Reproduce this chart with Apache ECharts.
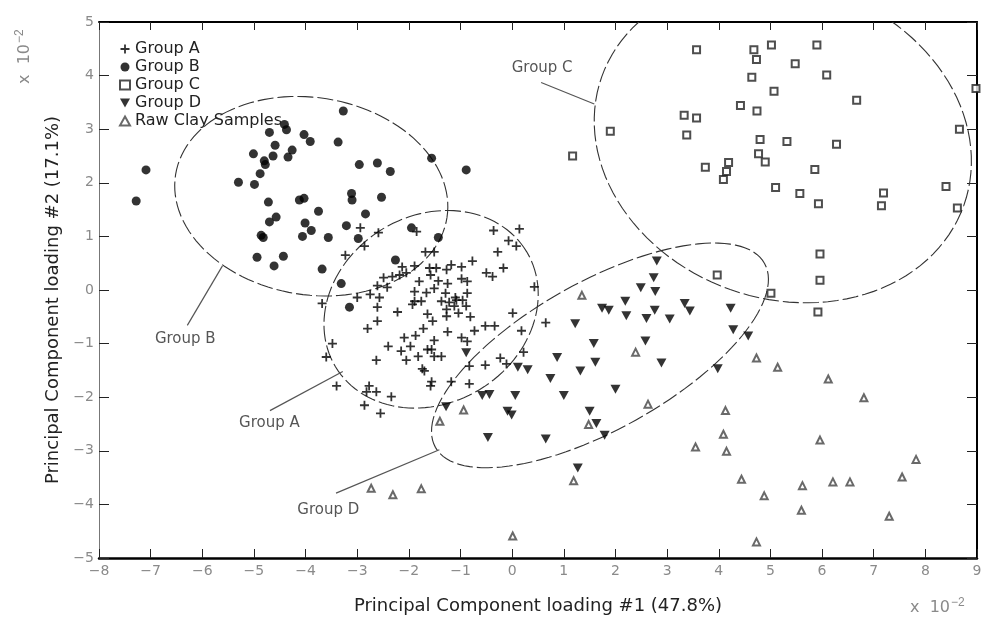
<!doctype html>
<html>

	<head>
		<meta charset="UTF-8">
		<title>Principal Component loading</title>
		<script src="https://cdn.jsdelivr.net/npm/echarts@6/dist/echarts.min.js"></script>
		<style>
			html, body {
				margin: 0;
				padding: 0;
				background: #fff;
			}
			#chart {
				width: 990px;
				height: 620px;
			}
		</style>
	</head>

	<body>
		<div id="chart"></div>
		<script type="text/javascript">
			// values in units of 10^-2
			var groupA = [[-2.94,1.16],[-2.59,1.07],[-2.86,0.82],[-3.23,0.65],[-1.85,1.09],[-1.68,0.71],[-1.51,0.71],[-0.36,1.11],[0.14,1.14],[-0.07,0.92],[0.08,0.82],[-0.28,0.71],[-0.77,0.54],[-0.17,0.41],[-0.50,0.32],[-0.38,0.25],[-2.13,0.43],[-1.89,0.45],[-2.05,0.32],[-2.18,0.28],[-2.32,0.25],[-2.49,0.23],[-1.60,0.41],[-1.47,0.41],[-1.27,0.38],[-1.18,0.47],[-0.98,0.43],[-1.58,0.28],[-1.43,0.17],[-1.25,0.12],[-0.98,0.21],[-0.87,0.16],[-1.80,0.16],[-2.61,0.08],[-2.42,0.05],[-1.89,-0.03],[-1.66,-0.05],[-1.51,0.03],[-1.29,-0.06],[-1.10,-0.14],[-0.87,-0.06],[-2.75,-0.08],[-2.57,-0.14],[-3.00,-0.14],[-3.68,-0.25],[-2.61,-0.32],[-2.61,-0.58],[-2.80,-0.72],[-1.89,-0.21],[-1.76,-0.21],[-1.37,-0.21],[-1.22,-0.23],[-1.08,-0.19],[-0.96,-0.19],[-1.93,-0.27],[-2.22,-0.41],[-1.64,-0.45],[-1.54,-0.58],[-1.27,-0.36],[-1.12,-0.30],[-0.89,-0.30],[-1.04,-0.43],[-1.27,-0.49],[-0.81,-0.50],[-1.72,-0.72],[-1.25,-0.78],[-0.73,-0.76],[-0.52,-0.67],[-0.34,-0.67],[0.01,-0.43],[0.18,-0.76],[0.43,0.06],[0.65,-0.61],[-2.09,-0.89],[-1.87,-0.85],[-1.51,-0.94],[-1.56,-1.11],[-0.98,-0.89],[-0.87,-0.96],[-2.40,-1.05],[-1.97,-1.05],[-2.15,-1.14],[-2.05,-1.31],[-1.82,-1.24],[-1.64,-1.11],[-1.51,-1.24],[-1.37,-1.24],[-3.48,-1.00],[-3.60,-1.25],[-2.63,-1.31],[-1.74,-1.47],[-1.70,-1.51],[-0.83,-1.42],[-0.52,-1.40],[-0.23,-1.27],[-0.11,-1.38],[0.22,-1.16],[-1.56,-1.71],[-1.58,-1.79],[-1.18,-1.71],[-0.83,-1.75],[-3.40,-1.79],[-2.77,-1.79],[-2.63,-1.90],[-2.82,-1.90],[-2.34,-1.99],[-2.86,-2.15],[-2.55,-2.30]];
			var groupB = [[-3.27,3.34],[-7.09,2.24],[-7.28,1.66],[-4.70,2.94],[-4.41,3.09],[-4.37,2.99],[-4.03,2.90],[-3.91,2.77],[-3.37,2.76],[-4.59,2.70],[-4.26,2.61],[-5.01,2.54],[-4.63,2.50],[-4.34,2.48],[-4.80,2.41],[-4.78,2.34],[-1.56,2.46],[-0.89,2.24],[-2.96,2.34],[-2.61,2.37],[-2.36,2.21],[-4.88,2.17],[-5.30,2.01],[-4.99,1.97],[-4.12,1.68],[-4.03,1.71],[-3.11,1.80],[-3.10,1.68],[-2.53,1.73],[-4.72,1.64],[-3.75,1.47],[-2.84,1.42],[-4.70,1.27],[-4.57,1.36],[-4.01,1.25],[-3.21,1.20],[-3.89,1.11],[-4.06,1.00],[-4.86,1.02],[-4.82,0.98],[-3.56,0.98],[-2.98,0.96],[-1.95,1.16],[-1.43,0.98],[-4.94,0.61],[-4.43,0.63],[-4.61,0.45],[-3.68,0.39],[-3.31,0.12],[-3.15,-0.32],[-2.26,0.56]];
			var groupC = [[3.57,4.48],[4.68,4.48],[5.02,4.57],[5.90,4.57],[4.73,4.30],[5.48,4.22],[4.64,3.97],[6.09,4.01],[5.07,3.71],[8.98,3.76],[6.67,3.54],[4.42,3.44],[3.33,3.26],[3.57,3.21],[4.74,3.34],[1.90,2.96],[8.66,3.00],[3.38,2.89],[4.80,2.81],[5.32,2.77],[6.28,2.72],[4.77,2.54],[4.90,2.39],[4.19,2.38],[3.74,2.29],[4.15,2.21],[4.09,2.06],[5.86,2.25],[5.10,1.91],[5.57,1.80],[5.93,1.61],[7.19,1.81],[7.15,1.57],[8.40,1.93],[8.62,1.53],[5.96,0.67],[5.96,0.18],[5.01,-0.06],[5.92,-0.41],[3.97,0.28],[1.17,2.50]];
			var groupD = [[2.80,0.54],[2.74,0.23],[2.49,0.04],[2.77,-0.03],[2.19,-0.21],[1.74,-0.34],[1.87,-0.38],[2.21,-0.48],[2.76,-0.38],[2.60,-0.53],[3.05,-0.54],[3.34,-0.25],[3.44,-0.39],[4.23,-0.34],[4.28,-0.74],[4.57,-0.86],[1.22,-0.63],[1.58,-1.00],[2.58,-0.95],[0.87,-1.26],[1.61,-1.35],[2.89,-1.36],[1.32,-1.51],[0.74,-1.65],[3.98,-1.47],[2.00,-1.85],[-0.89,-1.17],[0.11,-1.44],[0.30,-1.49],[-0.58,-1.97],[-0.44,-1.95],[0.06,-1.97],[1.00,-1.97],[-1.28,-2.18],[-0.09,-2.26],[-0.01,-2.33],[1.50,-2.26],[1.63,-2.49],[1.79,-2.71],[-0.47,-2.75],[0.65,-2.78],[1.27,-3.32]];
			var rawClay = [[1.35,-0.10],[2.39,-1.16],[-0.94,-2.24],[-1.40,-2.45],[2.63,-2.13],[1.48,-2.51],[4.73,-1.27],[5.14,-1.44],[6.12,-1.66],[6.81,-2.01],[4.13,-2.25],[4.09,-2.69],[4.15,-3.01],[3.55,-2.93],[5.96,-2.80],[7.82,-3.16],[4.44,-3.53],[4.88,-3.84],[5.62,-3.65],[6.21,-3.58],[6.54,-3.58],[7.55,-3.49],[5.60,-4.11],[7.30,-4.22],[4.73,-4.70],[1.19,-3.56],[-2.73,-3.70],[-2.31,-3.82],[-1.76,-3.71],[0.01,-4.59]];

			// group ellipses: centre, half axes (x units, y units), screen tilt in degrees
			var ellipseCx = [-1.57, -3.89, 5.24, 1.70];
			var ellipseCy = [-0.36, 1.75, 2.78, -1.22];
			var ellipseRx = [2.16, 2.66, 3.72, 3.65];
			var ellipseRy = [1.75, 1.84, 2.94, 1.38];
			var ellipseTilt = [31, -9, -19.5, 29.2];

			// callout labels and their leader lines
			var labelNames = ['Group A', 'Group B', 'Group C', 'Group D'];
			var labelX = [-4.70, -6.33, 0.58, -3.56];
			var labelY = [-2.49, -0.92, 4.14, -4.11];
			var leaderFrom = [[-4.69, -2.25], [-6.29, -0.66], [0.56, 3.87], [-3.41, -3.79]];
			var leaderTo = [[-3.28, -1.52], [-5.61, 0.45], [1.59, 3.47], [-1.41, -2.98]];

			var xMin = -8, xMax = 9, yMin = -5, yMax = 5;

			var plusPath = 'path://M4,0 H6 V4 H10 V6 H6 V10 H4 V6 H0 V4 H4 Z';
			var downTriPath = 'path://M0,0 L10,0 L5,9 Z';

			function minusLabel(v) {
				return String(v).replace('-', '\u2212');
			}

			var ellipseData = [];
			for (var i = 0; i < ellipseCx.length; i++) {
				ellipseData.push([ellipseCx[i], ellipseCy[i], ellipseRx[i], ellipseRy[i], ellipseTilt[i]]);
			}
			var labelData = [];
			for (var j = 0; j < labelNames.length; j++) {
				labelData.push({ value: [labelX[j], labelY[j]], name: labelNames[j] });
			}
			var leaderData = [];
			for (var k = 0; k < leaderFrom.length; k++) {
				leaderData.push([{ coord: leaderFrom[k] }, { coord: leaderTo[k] }]);
			}

			function renderEllipse(params, api) {
				var c = api.coord([api.value(0), api.value(1)]);
				var s = api.size([1, 1]);
				var a = api.value(2) * s[0];
				var b = api.value(3) * s[1];
				var th = api.value(4) * Math.PI / 180;
				var pts = [];
				for (var n = 0; n <= 120; n++) {
					var t = n / 120 * Math.PI * 2;
					pts.push([
						c[0] + a * Math.cos(t) * Math.cos(th) - b * Math.sin(t) * Math.sin(th),
						c[1] - (a * Math.cos(t) * Math.sin(th) + b * Math.sin(t) * Math.cos(th))
					]);
				}
				return {
					type: 'polyline',
					shape: { points: pts },
					style: { fill: 'none', stroke: '#333', lineWidth: 1.1, lineDash: [16, 4] }
				};
			}

			var axisFont = { color: '#8a8a8a', fontSize: 14, fontFamily: 'DejaVu Sans' };
			var powerRich = { s: { fontSize: 12, verticalAlign: 'top', fill: '#8a8a8a', padding: [0, 0, 9, 1] } };

			var chartOption = {
				animation: false,
				backgroundColor: '#fff',
				grid: {
					left: 99,
					right: 13,
					top: 22,
					bottom: 52
				},
				legend: {
					orient: 'vertical',
					left: 114,
					top: 36,
					itemWidth: 10,
					itemHeight: 9,
					itemGap: 2,
					selectedMode: false,
					data: ['Group A', 'Group B', 'Group C', 'Group D', 'Raw Clay Samples'],
					textStyle: { fontSize: 16, lineHeight: 16, color: '#222', fontFamily: 'DejaVu Sans' }
				},
				xAxis: [{
					type: 'value',
					min: xMin,
					max: xMax,
					interval: 1,
					name: 'Principal Component loading #1 (47.8%)',
					nameLocation: 'middle',
					nameGap: 39,
					nameTextStyle: { fontSize: 18, color: '#222', fontFamily: 'DejaVu Sans' },
					splitLine: { show: false },
					axisLine: { onZero: false, lineStyle: { color: '#000', width: 2.5 } },
					axisTick: { inside: true, length: 9, lineStyle: { color: '#222' } },
					axisLabel: { formatter: minusLabel, margin: 6, color: axisFont.color, fontSize: axisFont.fontSize, fontFamily: axisFont.fontFamily }
				}, {
					type: 'value',
					position: 'top',
					min: xMin,
					max: xMax,
					interval: 1,
					splitLine: { show: false },
					axisLine: { onZero: false, lineStyle: { color: '#000', width: 2 } },
					axisTick: { inside: true, length: 8, lineStyle: { color: '#222' } },
					axisLabel: { show: false }
				}],
				yAxis: [{
					type: 'value',
					min: yMin,
					max: yMax,
					interval: 1,
					name: 'Principal Component loading #2 (17.1%)',
					nameLocation: 'middle',
					nameGap: 34,
					nameTextStyle: { fontSize: 18, color: '#222', fontFamily: 'DejaVu Sans', padding: [0, 20, 0, 0] },
					splitLine: { show: false },
					axisLine: { onZero: false, lineStyle: { color: '#777', width: 1 } },
					axisTick: { inside: true, length: 10, lineStyle: { color: '#222' } },
					axisLabel: { formatter: minusLabel, margin: 5, color: axisFont.color, fontSize: axisFont.fontSize, fontFamily: axisFont.fontFamily }
				}, {
					type: 'value',
					position: 'right',
					min: yMin,
					max: yMax,
					interval: 1,
					splitLine: { show: false },
					axisLine: { onZero: false, lineStyle: { color: '#000', width: 2 } },
					axisTick: { inside: true, length: 10, lineStyle: { color: '#222' } },
					axisLabel: { show: false }
				}],
				graphic: [{
					type: 'text',
					x: 14,
					y: 84,
					rotation: Math.PI / 2,
					style: {
						text: 'x  10{s|\u22122}',
						fill: '#8a8a8a',
						fontSize: 16,
						fontFamily: 'DejaVu Sans',
						rich: powerRich
					}
				}, {
					type: 'text',
					x: 910,
					y: 597,
					style: {
						text: 'x  10{s|\u22122}',
						fill: '#8a8a8a',
						fontSize: 16,
						fontFamily: 'DejaVu Sans',
						rich: powerRich
					}
				}],
				series: [{
					name: 'ellipses',
					type: 'custom',
					clip: true,
					silent: true,
					renderItem: renderEllipse,
					data: ellipseData,
					z: 1,
					markLine: {
						silent: true,
						symbol: 'none',
						label: { show: false },
						lineStyle: { color: '#555', width: 1.2, type: 'solid' },
						data: leaderData
					}
				}, {
					name: 'callouts',
					type: 'scatter',
					symbolSize: 0,
					silent: true,
					data: labelData,
					label: {
						show: true,
						position: 'inside',
						formatter: '{b}',
						color: '#2a2a2a',
						fontSize: 15,
						fontFamily: 'DejaVu Sans'
					}
				}, {
					name: 'Group A',
					type: 'scatter',
					symbol: plusPath,
					symbolSize: 9,
					itemStyle: { color: '#000' },
					data: groupA,
					z: 3
				}, {
					name: 'Group B',
					type: 'scatter',
					symbol: 'circle',
					symbolSize: 9,
					itemStyle: { color: '#000' },
					data: groupB,
					z: 3
				}, {
					name: 'Group C',
					type: 'scatter',
					symbol: 'emptyRect',
					symbolSize: 7,
					itemStyle: { color: '#222', borderWidth: 1.2 },
					data: groupC,
					z: 3
				}, {
					name: 'Group D',
					type: 'scatter',
					symbol: downTriPath,
					symbolSize: [10, 9],
					itemStyle: { color: '#000' },
					data: groupD,
					z: 3
				}, {
					name: 'Raw Clay Samples',
					type: 'scatter',
					symbol: 'emptyTriangle',
					symbolSize: 7,
					itemStyle: { color: '#444', borderWidth: 1 },
					data: rawClay,
					z: 3
				}]
			};

			var chart = echarts.init(document.getElementById('chart'));
			chart.setOption(chartOption);
		</script>
	</body>

</html>
